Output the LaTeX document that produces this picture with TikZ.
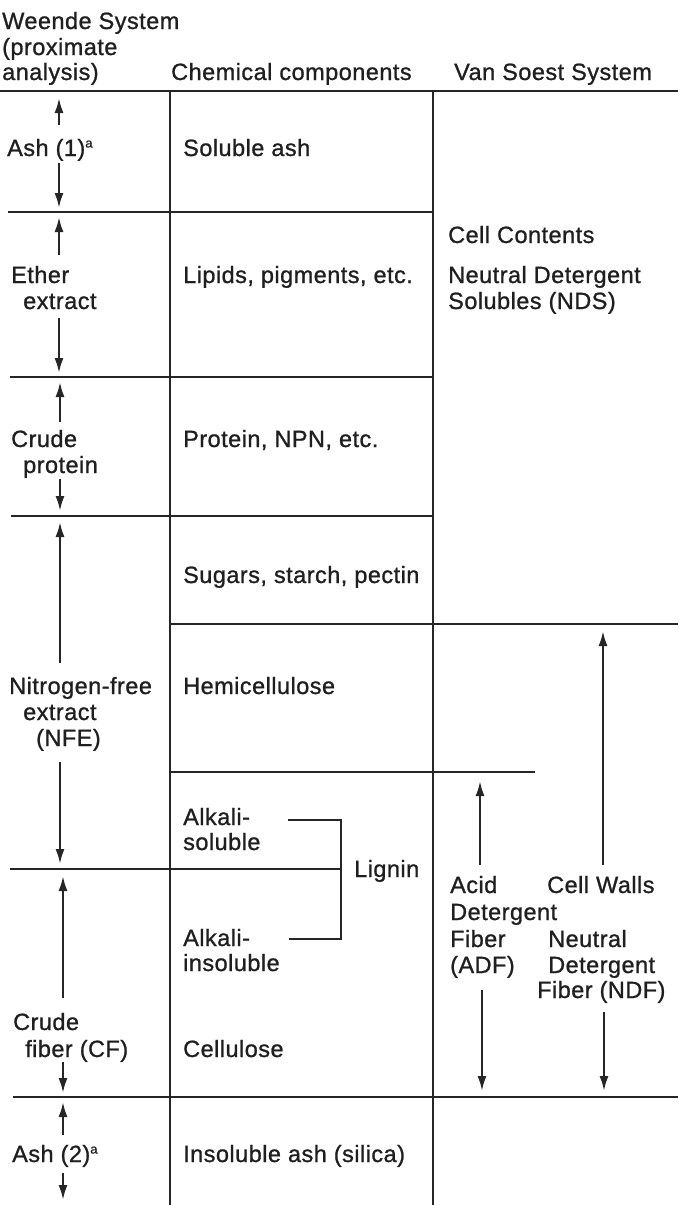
\documentclass[tikz,border=0pt]{standalone}
\usepackage{fontspec}
\setmainfont{Liberation Sans}[LetterSpace=2,FakeBold=1.0]
\usetikzlibrary{arrows.meta}
\newcommand{\supa}{\raisebox{8.5pt}{\fontsize{13}{13}\selectfont a}}
\tikzset{
  rulez/.style={line width=2.3pt, black!85},
  arr/.style={line width=2.3pt, black!85, -{Latex[length=15pt,width=9pt]}},
  lbl/.style={anchor=base west, inner sep=0pt, text=black!88, font=\fontsize{23.5}{26}\selectfont},
}
\begin{document}
\begin{tikzpicture}[x=1pt,y=-1pt]
\useasboundingbox (0,0) rectangle (678,1205);
% ---------- rules ----------
\coordinate (r0a) at (0,91);   \coordinate (r0b) at (678,91);
\coordinate (v1a) at (170,91); \coordinate (v1b) at (170,1205);
\coordinate (v2a) at (433,91); \coordinate (v2b) at (433,1205);
\coordinate (r1a) at (8,212);  \coordinate (r1b) at (433,212);
\coordinate (r2a) at (10,377); \coordinate (r2b) at (433,377);
\coordinate (r3a) at (11,516); \coordinate (r3b) at (433,516);
\coordinate (r4a) at (170,624); \coordinate (r4b) at (678,624);
\coordinate (r5a) at (170,772); \coordinate (r5b) at (535,772);
\coordinate (r6a) at (10,869); \coordinate (r6b) at (340,869);
\coordinate (r7a) at (13,1097); \coordinate (r7b) at (678,1097);
\draw[rulez] (r0a) -- (r0b);
\draw[rulez] (v1a) -- (v1b);
\draw[rulez] (v2a) -- (v2b);
\draw[rulez] (r1a) -- (r1b);
\draw[rulez] (r2a) -- (r2b);
\draw[rulez] (r3a) -- (r3b);
\draw[rulez] (r4a) -- (r4b);
\draw[rulez] (r5a) -- (r5b);
\draw[rulez] (r6a) -- (r6b);
\draw[rulez] (r7a) -- (r7b);
% ---------- header ----------
\node[lbl] (h1) at (2,29) {Weende System};
\node[lbl] (h2) at (2,55) {(proximate};
\node[lbl] (h3) at (2,80) {analysis)};
\node[lbl] (h4) at (171,80) {Chemical components};
\node[lbl] (h5) at (454,80) {Van Soest System};
% ---------- Weende column ----------
\node[lbl] (ash1) at (7,156) {Ash (1)\supa};
\node[lbl] (eth1) at (11,283) {Ether};
\node[lbl] (eth2) at (23,309) {extract};
\node[lbl] (cp1) at (11,447) {Crude};
\node[lbl] (cp2) at (23,473) {protein};
\node[lbl] (nfe1) at (9,694) {Nitrogen-free};
\node[lbl] (nfe2) at (23,720) {extract};
\node[lbl] (nfe3) at (36,746) {(NFE)};
\node[lbl] (cf1) at (13,1030) {Crude};
\node[lbl] (cf2) at (25,1057) {fiber (CF)};
\node[lbl] (ash2) at (12,1162) {Ash (2)\supa};
% arrows in Weende column
\coordinate (a1s) at (59,125);  \coordinate (a1t) at (59,98);
\coordinate (a2s) at (59,163);  \coordinate (a2t) at (59,208);
\coordinate (a3s) at (59,255);  \coordinate (a3t) at (59,217);
\coordinate (a4s) at (59,318);  \coordinate (a4t) at (59,373);
\coordinate (a5s) at (60,422);  \coordinate (a5t) at (60,382);
\coordinate (a6s) at (60,479);  \coordinate (a6t) at (60,511);
\coordinate (a7s) at (60,663);  \coordinate (a7t) at (60,522);
\coordinate (a8s) at (60,762);  \coordinate (a8t) at (60,864);
\coordinate (a9s) at (63,998);  \coordinate (a9t) at (63,876);
\coordinate (a10s) at (63,1062); \coordinate (a10t) at (63,1093);
\coordinate (a11s) at (63,1135); \coordinate (a11t) at (63,1102);
\coordinate (a12s) at (63,1173); \coordinate (a12t) at (63,1200);
\foreach \i in {1,...,12} {\draw[arr] (a\i s) -- (a\i t);}
% ---------- chemical components ----------
\node[lbl] (c1) at (183,156) {Soluble ash};
\node[lbl] (c2) at (183,283) {Lipids, pigments, etc.};
\node[lbl] (c3) at (183,447) {Protein, NPN, etc.};
\node[lbl] (c4) at (183,583) {Sugars, starch, pectin};
\node[lbl] (c5) at (183,694) {Hemicellulose};
\node[lbl] (c6a) at (183,825) {Alkali-};
\node[lbl] (c6b) at (183,850) {soluble};
\node[lbl] (lig) at (354,877) {Lignin};
\node[lbl] (c7a) at (183,946) {Alkali-};
\node[lbl] (c7b) at (183,971) {insoluble};
\node[lbl] (c8) at (183,1057) {Cellulose};
\node[lbl] (c9) at (183,1162) {Insoluble ash (silica)};
% lignin bracket
\coordinate (bk1) at (288,820); \coordinate (bk2) at (341,820);
\coordinate (bk3) at (341,939); \coordinate (bk4) at (289,939);
\draw[rulez] (bk1) -- (bk2) -- (bk3) -- (bk4);
% ---------- Van Soest column ----------
\node[lbl] (cc) at (448,243) {Cell Contents};
\node[lbl] (nds1) at (448,283) {Neutral Detergent};
\node[lbl] (nds2) at (448,309) {Solubles (NDS)};
\node[lbl] (adf1) at (450,893) {Acid};
\node[lbl] (adf2) at (450,920) {Detergent};
\node[lbl] (adf3) at (450,947) {Fiber};
\node[lbl] (adf4) at (450,973) {(ADF)};
\node[lbl] (cw) at (547,893) {Cell Walls};
\node[lbl] (ndf1) at (548,947) {Neutral};
\node[lbl] (ndf2) at (548,973) {Detergent};
\node[lbl] (ndf3) at (537,998) {Fiber (NDF)};
\coordinate (b1s) at (480,865); \coordinate (b1t) at (480,781);
\coordinate (b2s) at (482,990); \coordinate (b2t) at (482,1091);
\coordinate (b3s) at (603,865); \coordinate (b3t) at (603,631);
\coordinate (b4s) at (604,1012); \coordinate (b4t) at (604,1091);
\foreach \i in {1,...,4} {\draw[arr] (b\i s) -- (b\i t);}
\end{tikzpicture}
\end{document}
